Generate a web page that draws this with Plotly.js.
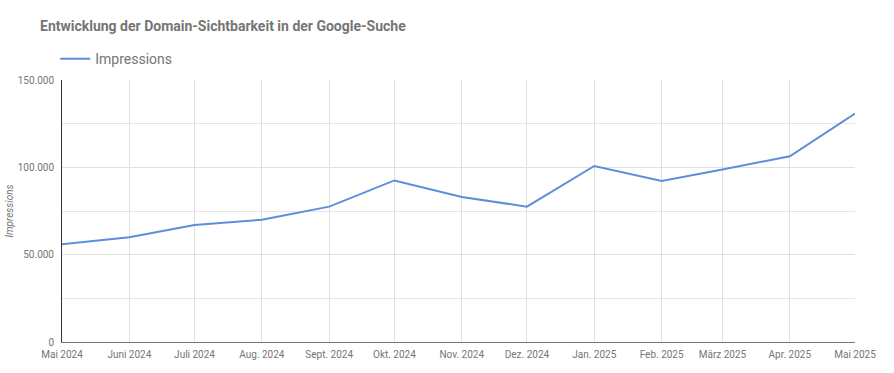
<!DOCTYPE html>
<html>
<head>
<meta charset="utf-8">
<script src="https://cdn.plot.ly/plotly-3.0.1.min.js"></script>
<style>html,body{margin:0;padding:0;background:#fff;}#chart{width:894px;height:373px;}</style>
</head>
<body>
<div id="chart"></div>
<script>
const months = ["2024-05-01","2024-06-01","2024-07-01","2024-08-01","2024-09-01","2024-10-01","2024-11-01","2024-12-01","2025-01-01","2025-02-01","2025-03-01","2025-04-01","2025-05-01"];
const monthLabels = ["Mai 2024","Juni 2024","Juli 2024","Aug. 2024","Sept. 2024","Okt. 2024","Nov. 2024","Dez. 2024","Jan. 2025","Feb. 2025","März 2025","Apr. 2025","Mai 2025"];
const impressions = [56000, 60000, 67000, 70000, 77500, 92500, 83000, 77500, 100800, 92200, 98800, 106300, 130800];
const yTicks = [0, 50000, 100000, 150000];
const yTickLabels = ["0", "50.000", "100.000", "150.000"];

const grey = "#757575";
const trace = {
  x: months, y: impressions, type: "scatter", mode: "lines", name: "Impressions",
  line: {color: "#5b8fdb", width: 2}, hoverinfo: "x+y"
};
const layout = {
  width: 894, height: 373,
  margin: {l: 62, r: 39, t: 80, b: 31},
  paper_bgcolor: "#fff", plot_bgcolor: "#fff",
  font: {family: "Roboto, Arial, sans-serif", color: grey, size: 10},
  title: {text: "<b>Entwicklung der Domain-Sichtbarkeit in der Google-Suche</b>",
    font: {family: "Roboto, Arial, sans-serif", size: 14, color: grey},
    x: 40/894, xanchor: "left", xref: "container", y: 1 - 26/373, yanchor: "middle", yref: "container"},
  showlegend: true,
  legend: {orientation: "h", x: -0.0085, xanchor: "left", y: 1.08, yanchor: "middle",
    font: {size: 14, color: grey}, bgcolor: "rgba(0,0,0,0)"},
  xaxis: {
    type: "date", range: [months[0], months[months.length-1]],
    tickmode: "array", tickvals: months, ticktext: monthLabels,
    showgrid: true, gridcolor: "#e0e0e0", gridwidth: 1,
    showline: true, linecolor: "#757575", linewidth: 1,
    zeroline: false, ticks: "", tickfont: {size: 10, color: grey}, ticklabelstandoff: 3, fixedrange: true
  },
  yaxis: {
    range: [0, 150000], tickmode: "array", tickvals: yTicks, ticktext: yTickLabels,
    showgrid: true, gridcolor: "#e0e0e0", gridwidth: 1,
    minor: {tickmode: "array", tickvals: [25000, 75000, 125000], showgrid: true, gridcolor: "#e6e6e6", ticks: ""},
    showline: true, linecolor: "#333333", linewidth: 1,
    zeroline: false, ticks: "", tickfont: {size: 10, color: grey}, ticklabelstandoff: 5,
    title: {text: "<i>Impressions</i>", font: {size: 10, color: grey}, standoff: 2},
    fixedrange: true
  }
};
Plotly.newPlot("chart", [trace], layout, {displayModeBar: false, staticPlot: true});
</script>
</body>
</html>
